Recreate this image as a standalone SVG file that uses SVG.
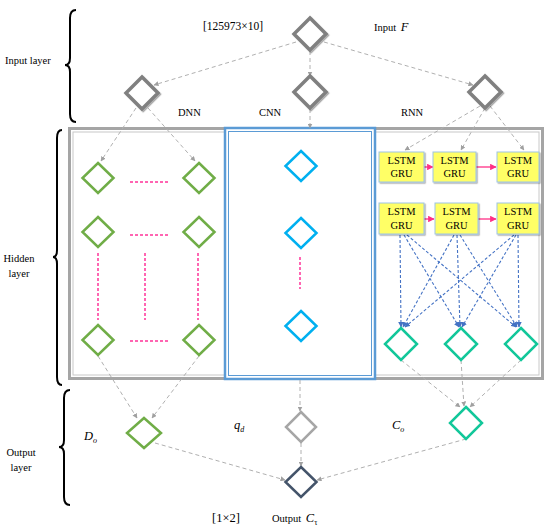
<svg xmlns="http://www.w3.org/2000/svg" width="550" height="531" viewBox="0 0 550 531">
<defs>
<marker id="ag" viewBox="0 0 10 10" refX="9" refY="5" markerWidth="5" markerHeight="5" orient="auto"><path d="M0,0 L10,5 L0,10 z" fill="#a0a0a0"/></marker>
<marker id="ap" viewBox="0 0 10 10" refX="9" refY="5" markerWidth="5" markerHeight="5" orient="auto"><path d="M0,0 L10,5 L0,10 z" fill="#ff2f86"/></marker>
<marker id="ab" viewBox="0 0 10 10" refX="9" refY="5" markerWidth="5" markerHeight="5" orient="auto"><path d="M0,0 L10,5 L0,10 z" fill="#4472c4"/></marker>
<filter id="sh" x="-20%" y="-20%" width="150%" height="150%"><feDropShadow dx="1.2" dy="1.2" stdDeviation="0.6" flood-color="#000" flood-opacity="0.35"/></filter>
</defs>
<style>
text{font-family:"Liberation Serif","Times New Roman",serif;fill:#000}
.lbl{font-size:10.5px}
.it{font-style:italic}
.brace{fill:none;stroke:#000;stroke-width:2}
.din{fill:#fff;stroke:#808080;stroke-width:3.5;filter:url(#sh)}
.dg{fill:#fff;stroke:#70ad47;stroke-width:2.5}
.dc{fill:#fff;stroke:#00b0f0;stroke-width:2.5}
.dt{fill:#fff;stroke:#12c79a;stroke-width:2.5}
.dgr{fill:#fff;stroke:#a6a6a6;stroke-width:2.5}
.dk{fill:#fff;stroke:#44546a;stroke-width:2.5}
.cg{fill:none;stroke:#b0b0b0;stroke-width:1;stroke-dasharray:4,3;marker-end:url(#ag)}
.cp{fill:none;stroke:#ff2f86;stroke-width:1.3;marker-end:url(#ap)}
.pd{fill:none;stroke:#ff3399;stroke-width:1.5;stroke-dasharray:3,2}
.cb{fill:none;stroke:#4472c4;stroke-width:1.1;stroke-dasharray:3,2;marker-end:url(#ab)}
.box{fill:#ffff66;stroke:#9dc3e6;stroke-width:1;filter:url(#sh)}
.bt{font-size:10.5px;text-anchor:middle}
</style>
<rect width="550" height="531" fill="#fff"/>

<g id="braces">
<path class="brace" d="M76,10 Q70,10 70,18 L70,58 Q70,65 65,65 Q70,65 70,72 L70,114 Q70,122 76,122"/>
<path class="brace" d="M62,130 Q57,130 57,138 L57,250 Q57,257 53,257 Q57,257 57,264 L57,377 Q57,385 62,385"/>
<path class="brace" d="M70,390 Q64,390 64,398 L64,440 Q64,447 59,447 Q64,447 64,454 L64,497 Q64,505 70,505"/>
</g>

<g id="layer-labels">
<text class="lbl" x="5" y="64">Input layer</text>
<text class="lbl" x="19" y="262" text-anchor="middle">Hidden</text>
<text class="lbl" x="19" y="277" text-anchor="middle">layer</text>
<text class="lbl" x="21" y="456" text-anchor="middle">Output</text>
<text class="lbl" x="21" y="471" text-anchor="middle">layer</text>
</g>

<g id="hidden-frame">
<rect x="69.5" y="128.5" width="473" height="250" fill="#fff" stroke="#a5a5a5" stroke-width="3"/>
<rect x="73" y="132" width="466" height="243" fill="none" stroke="#c8c8c8" stroke-width="1"/>
</g>
<g id="cnn-frame">
<rect x="225" y="128" width="150" height="251" fill="#fff" stroke="#5b9bd5" stroke-width="2.5"/>
<rect x="228.5" y="131.5" width="143" height="244" fill="none" stroke="#5b9bd5" stroke-width="1"/>
</g>

<g id="texts">
<text x="203" y="30" font-size="11.5">[125973×10]</text>
<text class="lbl" x="374" y="31">Input <tspan class="it" font-size="12.5" dx="2">F</tspan></text>
<text class="lbl" x="178" y="116">DNN</text>
<text class="lbl" x="259" y="116">CNN</text>
<text class="lbl" x="401" y="116">RNN</text>
<text class="it" x="84" y="440" font-size="12.5">D<tspan font-size="8" dy="3">o</tspan></text>
<text class="it" x="234" y="429" font-size="12.5">q<tspan font-size="8" dy="3">d</tspan></text>
<text class="it" x="392" y="429" font-size="12.5">C<tspan font-size="8" dy="3">o</tspan></text>
<text x="212" y="522" font-size="12.5">[1×2]</text>
<text class="lbl" x="272" y="522">Output <tspan class="it" font-size="12.5" dx="2">C</tspan><tspan font-size="8" dy="3">τ</tspan></text>
</g>

<g id="connectors">
<path class="cg" d="M296,42 L154,85"/>
<path class="cg" d="M310,51 L310,76"/>
<path class="cg" d="M324,42 L473,85"/>
<path class="cg" d="M136,108 L101,161"/>
<path class="cg" d="M148,108 L195,161"/>
<path class="cg" d="M310,109 L310,128"/>
<path class="cg" d="M480,106 L405,150"/>
<path class="cg" d="M485,108 L461,150"/>
<path class="cg" d="M490,106 L524,150"/>
<path class="cg" d="M98,356 L137,418"/>
<path class="cg" d="M199,356 L152,418"/>
<path class="cg" d="M300,380 L300,411"/>
<path class="cg" d="M401,360 L460,407"/>
<path class="cg" d="M461,360 L464,406"/>
<path class="cg" d="M521,360 L470,407"/>
<path class="cg" d="M155,443 L285,480"/>
<path class="cg" d="M301,443 L301,466"/>
<path class="cg" d="M466,439 L317,480"/>
<path class="cp" d="M424,167 L433,167"/>
<path class="cp" d="M476,167 L496,167"/>
<path class="cp" d="M424,219 L434,219"/>
<path class="cp" d="M478,219 L496,219"/>
<path class="cb" d="M400,235 L401,327"/>
<path class="cb" d="M404,235 L459,327"/>
<path class="cb" d="M407,235 L516,327"/>
<path class="cb" d="M454,235 L403,327"/>
<path class="cb" d="M457,235 L460,327"/>
<path class="cb" d="M460,235 L517,327"/>
<path class="cb" d="M514,235 L405,327"/>
<path class="cb" d="M516,235 L462,327"/>
<path class="cb" d="M518,235 L519,327"/>
<path class="pd" d="M130,182 H169 M130,235 H169 M130,341 H169 M98,253 V320 M145,253 V320 M198,253 V320 M300,257 V289"/>
</g>

<g id="input-F"><polygon class="din" points="310,18 326,34 310,50 294,34"/></g>
<g id="dnn-in"><polygon class="din" points="142,77 158,93 142,109 126,93"/></g>
<g id="cnn-in"><polygon class="din" points="310,76 326,92 310,108 294,92"/></g>
<g id="rnn-in"><polygon class="din" points="485,76 501,92 485,108 469,92"/></g>

<g id="dnn-1"><polygon class="dg" points="98,163 113.5,178 98,193 82.5,178"/></g>
<g id="dnn-2"><polygon class="dg" points="199,163 214.5,178 199,193 183.5,178"/></g>
<g id="dnn-3"><polygon class="dg" points="98,217 113.5,232 98,247 82.5,232"/></g>
<g id="dnn-4"><polygon class="dg" points="199,217 214.5,232 199,247 183.5,232"/></g>
<g id="dnn-5"><polygon class="dg" points="98,325 113.5,340 98,355 82.5,340"/></g>
<g id="dnn-6"><polygon class="dg" points="199,325 214.5,340 199,355 183.5,340"/></g>

<g id="cnn-1"><polygon class="dc" points="301,151 316.5,166 301,181 285.5,166"/></g>
<g id="cnn-2"><polygon class="dc" points="301,218 316.5,233 301,248 285.5,233"/></g>
<g id="cnn-3"><polygon class="dc" points="301,311 316.5,326 301,341 285.5,326"/></g>

<g id="lstm-1"><rect class="box" x="379" y="152" width="45" height="30"/><text class="bt" x="401.5" y="164">LSTM</text><text class="bt" x="401.5" y="177">GRU</text></g>
<g id="lstm-2"><rect class="box" x="433" y="152" width="43" height="30"/><text class="bt" x="454.5" y="164">LSTM</text><text class="bt" x="454.5" y="177">GRU</text></g>
<g id="lstm-3"><rect class="box" x="497" y="152" width="42" height="30"/><text class="bt" x="518" y="164">LSTM</text><text class="bt" x="518" y="177">GRU</text></g>
<g id="lstm-4"><rect class="box" x="379" y="203" width="45" height="31"/><text class="bt" x="401.5" y="215">LSTM</text><text class="bt" x="401.5" y="229">GRU</text></g>
<g id="lstm-5"><rect class="box" x="435" y="203" width="43" height="31"/><text class="bt" x="456.5" y="215">LSTM</text><text class="bt" x="456.5" y="229">GRU</text></g>
<g id="lstm-6"><rect class="box" x="497" y="203" width="42" height="31"/><text class="bt" x="518" y="215">LSTM</text><text class="bt" x="518" y="229">GRU</text></g>

<g id="rnn-1"><polygon class="dt" points="401,328 417,344 401,360 385,344"/></g>
<g id="rnn-2"><polygon class="dt" points="461,328 477,344 461,360 445,344"/></g>
<g id="rnn-3"><polygon class="dt" points="521,328 537,344 521,360 505,344"/></g>

<g id="out-D"><polygon class="dg" points="144,418 161,433 144,448 127,433"/></g>
<g id="out-q"><polygon class="dgr" points="301,412 316,427 301,442 286,427"/></g>
<g id="out-C"><polygon class="dt" points="466,407 482,423 466,439 450,423"/></g>
<g id="out-final"><polygon class="dk" points="301,467 316.5,482 301,497 285.5,482"/></g>
</svg>
